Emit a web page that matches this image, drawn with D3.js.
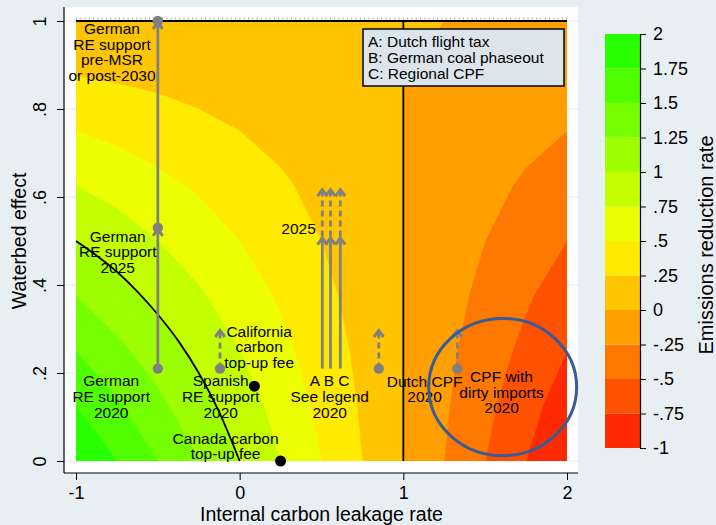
<!DOCTYPE html>
<html>
<head>
<meta charset="utf-8">
<script src="https://cdn.jsdelivr.net/npm/d3@7"></script>
<style>
  body { margin: 0; background: #e8eff2; }
  svg { display: block; font-family: "Liberation Sans", Arial, sans-serif; }
</style>
</head>
<body>
<script>
// surface grid: emissions reduction rate
const leakage = [-1, -0.75, -0.5, -0.25, 0, 0.25, 0.5, 0.75, 1, 1.25, 1.5, 1.75, 2];
const waterbed = [0, 0.125, 0.25, 0.375, 0.5, 0.625, 0.75, 0.875, 1];
const reduction = [
  [2, 1.75, 1.5, 1.25, 1, 0.75, 0.5, 0.25, 0, -0.25, -0.5, -0.75, -1],
  [1.75, 1.53, 1.31, 1.09, 0.88, 0.66, 0.44, 0.22, 0, -0.22, -0.44, -0.66, -0.88],
  [1.5, 1.31, 1.13, 0.94, 0.75, 0.56, 0.38, 0.19, 0, -0.19, -0.38, -0.56, -0.75],
  [1.25, 1.09, 0.94, 0.78, 0.63, 0.47, 0.31, 0.16, 0, -0.16, -0.31, -0.47, -0.63],
  [1, 0.88, 0.75, 0.63, 0.5, 0.38, 0.25, 0.13, 0, -0.13, -0.25, -0.38, -0.5],
  [0.75, 0.66, 0.56, 0.47, 0.38, 0.28, 0.19, 0.09, 0, -0.09, -0.19, -0.28, -0.38],
  [0.5, 0.44, 0.38, 0.31, 0.25, 0.19, 0.13, 0.06, 0, -0.06, -0.13, -0.19, -0.25],
  [0.25, 0.22, 0.19, 0.16, 0.13, 0.09, 0.06, 0.03, 0, -0.03, -0.06, -0.09, -0.13],
  [0, 0, 0, 0, 0, 0, 0, 0, 0, 0, 0, 0, 0]
];

// colour bar levels
const levels = [-1, -0.75, -0.5, -0.25, 0, 0.25, 0.5, 0.75, 1, 1.25, 1.5, 1.75, 2];
const levelLabels = ["-1", "-.75", "-.5", "-.25", "0", ".25", ".5", ".75", "1", "1.25", "1.5", "1.75", "2"];
const bandColors = ["#ff2a00", "#ff5200", "#ff7800", "#ff9f00", "#ffc500", "#ffeb00",
                    "#ebff00", "#c4ff00", "#9dff00", "#76ff00", "#4fff00", "#28ff00"];

// axis ticks
const xTicks = [-1, 0, 1, 2];
const xTickLabels = ["-1", "0", "1", "2"];
const yTicks = [0, 0.2, 0.4, 0.6, 0.8, 1];
const yTickLabels = ["0", ".2", ".4", ".6", ".8", "1"];

// black line where the reduction rate equals 1
const frontier = [[-1, 0.5], [-0.875, 0.467], [-0.75, 0.43], [-0.625, 0.385], [-0.5, 0.333],
                  [-0.375, 0.273], [-0.25, 0.2], [-0.125, 0.111], [0, 0]];

// policy points
const grayDots = [[-0.5, 0.21], [-0.5, 0.53], [-0.5, 1], [-0.12, 0.21], [0.85, 0.21], [1.33, 0.21]];
const blackDots = [[0.09, 0.17], [0.25, 0]];
// arrows: leakage, from, to, dashed
const arrows = [
  [-0.5, 0.21, 0.53, false], [-0.5, 0.53, 1, false],
  [-0.12, 0.21, 0.3, true], [0.85, 0.21, 0.3, true], [1.33, 0.21, 0.3, true],
  [0.505, 0.21, 0.51, false], [0.555, 0.21, 0.51, false], [0.615, 0.21, 0.51, false],
  [0.505, 0.51, 0.62, true], [0.555, 0.51, 0.62, true], [0.615, 0.51, 0.62, true]
];
// text blocks: lines, leakage, waterbed (block centre)
const notes = [
  [["German", "RE support", "pre-MSR", "or post-2030"], -0.78, 0.93],
  [["German", "RE support", "2025"], -0.745, 0.476],
  [["German", "RE support", "2020"], -0.785, 0.147],
  [["Spanish", "RE support", "2020"], -0.116, 0.147],
  [["California", "carbon", "top-up fee"], 0.119, 0.26],
  [["Canada carbon", "top-up fee"], -0.086, 0.034],
  [["A B C", "See legend", "2020"], 0.55, 0.147],
  [["2025"], 0.36, 0.529],
  [["Dutch CPF", "2020"], 1.13, 0.164],
  [["CPF with", "dirty imports", "2020"], 1.6, 0.157]
];
const legendLines = ["A: Dutch flight tax", "B: German coal phaseout", "C: Regional CPF"];
// highlighted area: centre leakage, centre waterbed, radius in leakage, radius in waterbed
const highlight = [1.607, 0.168, 0.452, 0.156];

const width = 716, height = 525;
const svg = d3.select("body").append("svg")
  .attr("width", width)
  .attr("height", height);

const x = d3.scaleLinear().domain([-1, 2]).range([76, 567]);
const y = d3.scaleLinear().domain([0, 1]).range([461, 21]);

// plot region
svg.append("rect")
  .attr("x", 64).attr("y", 7)
  .attr("width", 514).attr("height", 466)
  .attr("fill", "#fff");

svg.append("g").selectAll("line")
  .data(yTicks)
  .enter().append("line")
  .attr("x1", 64).attr("x2", 578)
  .attr("y1", d => y(d)).attr("y2", d => y(d))
  .attr("stroke", "#e3ebee")
  .attr("stroke-width", 1);

// contour bands
const nx = leakage.length, ny = waterbed.length;
const gx = d3.scaleLinear().domain([0.5, nx - 0.5]).range([leakage[0], leakage[nx - 1]]);
const gy = d3.scaleLinear().domain([0.5, ny - 0.5]).range([waterbed[0], waterbed[ny - 1]]);
const bands = d3.contours()
  .size([nx, ny])
  .thresholds(levels.slice(0, -1))(reduction.flat());
const toPixels = d3.geoTransform({
  point: function(px, py) { this.stream.point(x(gx(px)), y(gy(py))); }
});
const path = d3.geoPath(toPixels);

svg.append("clipPath").attr("id", "field")
  .append("rect")
  .attr("x", x(-1)).attr("y", y(1))
  .attr("width", x(2) - x(-1)).attr("height", y(0) - y(1));

svg.append("g").attr("clip-path", "url(#field)")
  .selectAll("path")
  .data(bands)
  .enter().append("path")
  .attr("d", path)
  .attr("fill", (d, i) => bandColors[i])
  .attr("stroke", (d, i) => bandColors[i])
  .attr("stroke-width", 0.5);

// black reference lines
svg.append("line")
  .attr("x1", x(-1)).attr("x2", x(2))
  .attr("y1", y(1) - 2.5).attr("y2", y(1) - 2.5)
  .attr("stroke", "#444").attr("stroke-width", 2)
  .attr("stroke-dasharray", "1,3.3").attr("opacity", 0.45);
svg.append("line")
  .attr("x1", x(-1)).attr("x2", x(2))
  .attr("y1", y(1)).attr("y2", y(1))
  .attr("stroke", "#000").attr("stroke-width", 2);
svg.append("line")
  .attr("x1", x(1)).attr("x2", x(1))
  .attr("y1", y(0)).attr("y2", y(1))
  .attr("stroke", "#000").attr("stroke-width", 1.8);

const line = d3.line()
  .x(d => x(d[0]))
  .y(d => y(d[1]))
  .curve(d3.curveMonotoneX);
svg.append("path")
  .attr("d", line(frontier))
  .attr("fill", "none")
  .attr("stroke", "#000")
  .attr("stroke-width", 1.8);

// arrows
const arrowG = svg.append("g");
arrows.forEach(a => {
  arrowG.append("line")
    .attr("x1", x(a[0])).attr("x2", x(a[0]))
    .attr("y1", y(a[1])).attr("y2", y(a[2]) + 2)
    .attr("stroke", "#808080")
    .attr("stroke-width", 2.8)
    .attr("stroke-dasharray", a[3] ? "6,4" : null);
  arrowG.append("path")
    .attr("transform", "translate(" + x(a[0]) + "," + y(a[2]) + ")")
    .attr("d", "M-4.8,8 L0,1.5 L4.8,8")
    .attr("fill", "none")
    .attr("stroke", "#808080")
    .attr("stroke-width", 3)
    .attr("stroke-linejoin", "miter");
});

svg.append("g").selectAll("circle")
  .data(grayDots)
  .enter().append("circle")
  .attr("cx", d => x(d[0])).attr("cy", d => y(d[1]))
  .attr("r", 5.2)
  .attr("fill", "#808080");

svg.append("g").selectAll("circle")
  .data(blackDots)
  .enter().append("circle")
  .attr("cx", d => x(d[0])).attr("cy", d => y(d[1]))
  .attr("r", 5.5)
  .attr("fill", "#000");

// labels
const lineH = 15.6;
const noteG = svg.append("g")
  .attr("font-size", "15.5px")
  .attr("fill", "#000")
  .attr("text-anchor", "middle");
notes.forEach(n => {
  const t = noteG.append("text");
  const n0 = (n[0].length - 1) / 2;
  n[0].forEach((s, i) => {
    t.append("tspan")
      .attr("x", x(n[1]))
      .attr("y", y(n[2]) + (i - n0) * lineH + 5.6)
      .text(s);
  });
});

// highlighted ellipse
svg.append("ellipse")
  .attr("cx", x(highlight[0])).attr("cy", y(highlight[1]))
  .attr("rx", x(highlight[0] + highlight[2]) - x(highlight[0]))
  .attr("ry", y(highlight[1]) - y(highlight[1] + highlight[3]))
  .attr("fill", "none")
  .attr("stroke", "#3b5a98")
  .attr("stroke-width", 3);

// legend box
svg.append("rect")
  .attr("x", 363).attr("y", 29)
  .attr("width", 201).attr("height", 57)
  .attr("fill", "#dbe5eb")
  .attr("stroke", "#000")
  .attr("stroke-width", 1.5);
svg.append("g").selectAll("text")
  .data(legendLines)
  .enter().append("text")
  .attr("x", 368)
  .attr("y", (d, i) => 47.3 + i * 16)
  .attr("font-size", "15.5px")
  .text(d => d);

// axes
svg.append("line")
  .attr("x1", 64).attr("x2", 64).attr("y1", 7).attr("y2", 473)
  .attr("stroke", "#000").attr("stroke-width", 1.2);
svg.append("line")
  .attr("x1", 64).attr("x2", 578).attr("y1", 473).attr("y2", 473)
  .attr("stroke", "#000").attr("stroke-width", 1.2);

const xAxis = svg.append("g")
  .attr("transform", "translate(0,473)")
  .call(d3.axisBottom(x).tickValues(xTicks)
    .tickFormat((d, i) => xTickLabels[i])
    .tickSize(7).tickPadding(6));
xAxis.select(".domain").remove();
xAxis.selectAll("text").attr("font-size", "18px").attr("fill", "#000")
  .attr("font-family", "Liberation Sans, Arial, sans-serif");
xAxis.selectAll("line").attr("stroke", "#000");

const yAxis = svg.append("g")
  .attr("transform", "translate(64,0)")
  .call(d3.axisLeft(y).tickValues(yTicks)
    .tickFormat((d, i) => yTickLabels[i])
    .tickSize(7));
yAxis.select(".domain").remove();
yAxis.selectAll("line").attr("stroke", "#000");
yAxis.selectAll("text")
  .attr("x", null).attr("dy", null)
  .attr("transform", "translate(-18,0) rotate(-90)")
  .attr("text-anchor", "middle")
  .attr("font-size", "18px").attr("fill", "#000")
  .attr("font-family", "Liberation Sans, Arial, sans-serif");

svg.append("text")
  .attr("x", 321.5).attr("y", 521)
  .attr("text-anchor", "middle")
  .attr("font-size", "19.5px")
  .text("Internal carbon leakage rate");
svg.append("text")
  .attr("transform", "translate(26,241) rotate(-90)")
  .attr("text-anchor", "middle")
  .attr("font-size", "19.5px")
  .text("Waterbed effect");

// colour bar
const cb = d3.scaleLinear().domain([-1, 2]).range([448, 34]);
svg.append("g").selectAll("rect")
  .data(bandColors)
  .enter().append("rect")
  .attr("x", 605)
  .attr("y", (d, i) => cb(levels[i + 1]))
  .attr("width", 35)
  .attr("height", (d, i) => cb(levels[i]) - cb(levels[i + 1]))
  .attr("fill", d => d);

const cbAxis = svg.append("g")
  .attr("transform", "translate(640,0)")
  .call(d3.axisRight(cb).tickValues(levels)
    .tickFormat((d, i) => levelLabels[i])
    .tickSize(6).tickSizeOuter(0).tickPadding(7));
cbAxis.select(".domain").attr("stroke", "#000").attr("stroke-width", 1.2);
cbAxis.selectAll("line").attr("stroke", "#000");
cbAxis.selectAll("text").attr("font-size", "18px").attr("fill", "#000")
  .attr("font-family", "Liberation Sans, Arial, sans-serif");

svg.append("text")
  .attr("transform", "translate(713,245) rotate(-90)")
  .attr("text-anchor", "middle")
  .attr("font-size", "20px")
  .text("Emissions reduction rate");
</script>
</body>
</html>
